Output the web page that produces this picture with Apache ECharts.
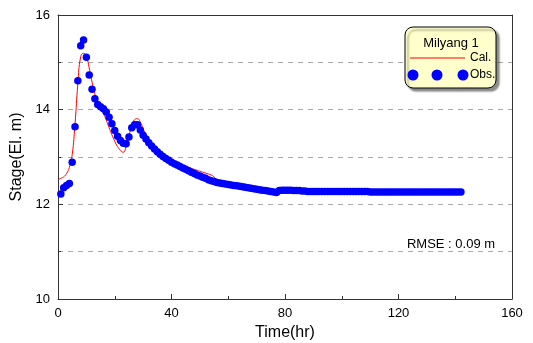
<!DOCTYPE html>
<html>
<head>
<meta charset="utf-8">
<script src="https://cdn.jsdelivr.net/npm/echarts@6/dist/echarts.min.js"></script>
<style>
  html, body { margin: 0; padding: 0; background: #fff; }
  #main { width: 533px; height: 343px; }
</style>
</head>
<body>
<div id="main"></div>
<script>
// observed stage, hourly from t = 1 hr
const obsStart = 1;
const obsStage = [
  12.22, 12.35, 12.40, 12.44, 12.89, 13.64, 14.61, 15.35, 15.47, 15.11,
  14.73, 14.43, 14.23, 14.11, 14.06, 14.02, 13.95, 13.84, 13.70, 13.56,
  13.44, 13.35, 13.29, 13.28, 13.42, 13.62, 13.68, 13.68, 13.57, 13.46,
  13.38, 13.30, 13.23, 13.17, 13.11, 13.06, 13.01, 12.97, 12.93, 12.89,
  12.86, 12.83, 12.80, 12.77, 12.74, 12.71, 12.68, 12.65, 12.62, 12.60,
  12.57, 12.55, 12.52, 12.50, 12.48, 12.46, 12.45, 12.44, 12.43, 12.42,
  12.41, 12.40, 12.39, 12.38, 12.37, 12.36, 12.35, 12.34, 12.33, 12.32,
  12.31, 12.30, 12.29, 12.28, 12.27, 12.26, 12.25, 12.29, 12.30, 12.30,
  12.30, 12.30, 12.29, 12.29, 12.29, 12.28, 12.28, 12.27, 12.27, 12.27,
  12.27, 12.27, 12.27, 12.27, 12.27, 12.27, 12.27, 12.27, 12.27, 12.27,
  12.27, 12.27, 12.27, 12.27, 12.27, 12.27, 12.27, 12.27, 12.27, 12.26,
  12.26, 12.26, 12.26, 12.26, 12.26, 12.26, 12.26, 12.26, 12.26, 12.26,
  12.26, 12.26, 12.26, 12.26, 12.26, 12.26, 12.26, 12.26, 12.26, 12.26,
  12.26, 12.26, 12.26, 12.26, 12.26, 12.26, 12.26, 12.26, 12.26, 12.26,
  12.26, 12.26
];

// calculated stage, hourly from t = 0 hr
const calStart = 0;
const calStage = [
  12.52, 12.55, 12.58, 12.65, 12.78, 13.05, 13.70, 14.55, 15.12, 15.19,
  15.12, 14.88, 14.58, 14.33, 14.15, 14.02, 13.92, 13.78, 13.62, 13.47,
  13.33, 13.22, 13.14, 13.10, 13.22, 13.45, 13.66, 13.79, 13.81, 13.74,
  13.60, 13.47, 13.36, 13.27, 13.20, 13.13, 13.07, 13.02, 12.98, 12.94,
  12.91, 12.88, 12.86, 12.84, 12.82, 12.80, 12.78, 12.76, 12.74, 12.72,
  12.70, 12.68, 12.66, 12.64, 12.62, 12.58, 12.52, 12.48, 12.46, 12.45,
  12.43, 12.42, 12.41, 12.40, 12.38, 12.36, 12.34, 12.32, 12.30, 12.29,
  12.28, 12.27, 12.26, 12.25, 12.25, 12.25, 12.25, 12.25, 12.26, 12.27,
  12.28, 12.28, 12.28, 12.28, 12.28, 12.28, 12.28, 12.28, 12.28, 12.27,
  12.27, 12.27, 12.27, 12.27, 12.27, 12.27, 12.27, 12.27, 12.27, 12.27,
  12.27, 12.27, 12.27, 12.27, 12.27, 12.27, 12.27, 12.27, 12.27, 12.27,
  12.27, 12.27, 12.27, 12.27, 12.27, 12.27, 12.27, 12.27, 12.27, 12.27,
  12.27, 12.27, 12.27, 12.27, 12.27, 12.27, 12.27, 12.27, 12.27, 12.27,
  12.27, 12.27, 12.27, 12.27, 12.27, 12.27, 12.27, 12.27, 12.27, 12.27,
  12.27, 12.27, 12.27
];

const xTicks = [0, 40, 80, 120, 160];
const yTicks = [10, 12, 14, 16];
const stationName = "Milyang 1";
const rmseText = "RMSE : 0.09 m";

const font = "Liberation Sans, Arial, sans-serif";
const obsData = obsStage.map((v, i) => [obsStart + i, v]);
const calData = calStage.map((v, i) => [calStart + i, v]);

const chart = echarts.init(document.getElementById("main"));

const option = {
  animation: false,
  grid: { left: 58, right: 21, top: 15, bottom: 44, containLabel: false, outerBoundsMode: "none" },
  xAxis: [
    {
      type: "value",
      min: xTicks[0],
      max: xTicks[xTicks.length - 1],
      interval: 40,
      name: "Time(hr)",
      nameLocation: "middle",
      nameGap: 25,
      nameTextStyle: { color: "#000", fontSize: 16, fontFamily: font },
      axisLine: { show: true, lineStyle: { color: "#333", width: 1 } },
      axisTick: { show: true, inside: true, length: 5, lineStyle: { color: "#333" } },
      minorTick: { show: true, splitNumber: 2, length: 3, lineStyle: { color: "#333" } },
      axisLabel: { color: "#000", fontSize: 13, fontFamily: font, margin: 8 },
      splitLine: { show: false },
    },
    {
      type: "value",
      position: "top",
      min: 0,
      max: 160,
      axisLine: { show: true, onZero: false, lineStyle: { color: "#333", width: 1 } },
      axisTick: { show: false },
      axisLabel: { show: false },
      splitLine: { show: false },
    },
  ],
  yAxis: [
    {
      type: "value",
      min: yTicks[0],
      max: yTicks[yTicks.length - 1],
      interval: 2,
      name: "Stage(El. m)",
      nameLocation: "middle",
      nameGap: 16,
      nameTextStyle: { color: "#000", fontSize: 16, fontFamily: font },
      axisLine: { show: true, lineStyle: { color: "#333", width: 1 } },
      axisTick: { show: true, inside: true, length: 5, lineStyle: { color: "#333" } },
      minorTick: { show: true, splitNumber: 2, length: 3, lineStyle: { color: "#333" } },
      axisLabel: { color: "#000", fontSize: 13, fontFamily: font, margin: 8 },
      splitLine: { show: true, lineStyle: { color: "#aaa", type: [5, 5], width: 1 } },
      minorSplitLine: { show: true, lineStyle: { color: "#aaa", type: [5, 5], width: 1 } },
    },
    {
      type: "value",
      position: "right",
      min: 10,
      max: 16,
      axisLine: { show: true, onZero: false, lineStyle: { color: "#333", width: 1 } },
      axisTick: { show: false },
      axisLabel: { show: false },
      splitLine: { show: false },
    },
  ],
  series: [
    {
      name: "Cal.",
      type: "line",
      data: calData,
      smooth: true,
      showSymbol: false,
      lineStyle: { color: "#ff0000", width: 1 },
      z: 2,
    },
    {
      name: "Obs.",
      type: "scatter",
      data: obsData,
      symbol: "circle",
      symbolSize: 7.5,
      itemStyle: { color: "#0000ff", opacity: 1 },
      z: 3,
    },
  ],
  graphic: [
    {
      type: "rect",
      shape: { x: 405, y: 27, width: 91, height: 61, r: 8 },
      style: {
        fill: "#ffffcc",
        stroke: "#000",
        lineWidth: 1,
        shadowColor: "rgba(0,0,0,0.45)",
        shadowOffsetX: 3,
        shadowOffsetY: 3,
        shadowBlur: 2,
      },
      z: 10,
    },
    {
      type: "text",
      x: 451,
      y: 43,
      style: { text: stationName, fill: "#000", fontSize: 13, fontFamily: font, align: "center", verticalAlign: "middle" },
      z: 11,
    },
    {
      type: "line",
      shape: { x1: 410, y1: 58, x2: 465, y2: 58 },
      style: { stroke: "#ff0000", lineWidth: 1 },
      z: 11,
    },
    {
      type: "text",
      x: 470,
      y: 58,
      style: { text: "Cal.", fill: "#000", fontSize: 12, fontFamily: font, align: "left", verticalAlign: "middle" },
      z: 11,
    },
    { type: "circle", shape: { cx: 413, cy: 75, r: 5.5 }, style: { fill: "#0000ff" }, z: 11 },
    { type: "circle", shape: { cx: 437, cy: 75, r: 5.5 }, style: { fill: "#0000ff" }, z: 11 },
    { type: "circle", shape: { cx: 463, cy: 75, r: 5.5 }, style: { fill: "#0000ff" }, z: 11 },
    {
      type: "text",
      x: 470,
      y: 75,
      style: { text: "Obs.", fill: "#000", fontSize: 12, fontFamily: font, align: "left", verticalAlign: "middle" },
      z: 11,
    },
    {
      type: "text",
      x: 451,
      y: 244,
      style: { text: rmseText, fill: "#000", fontSize: 13, fontFamily: font, align: "center", verticalAlign: "middle" },
      z: 11,
    },
  ],
};

chart.setOption(option);
</script>
</body>
</html>
